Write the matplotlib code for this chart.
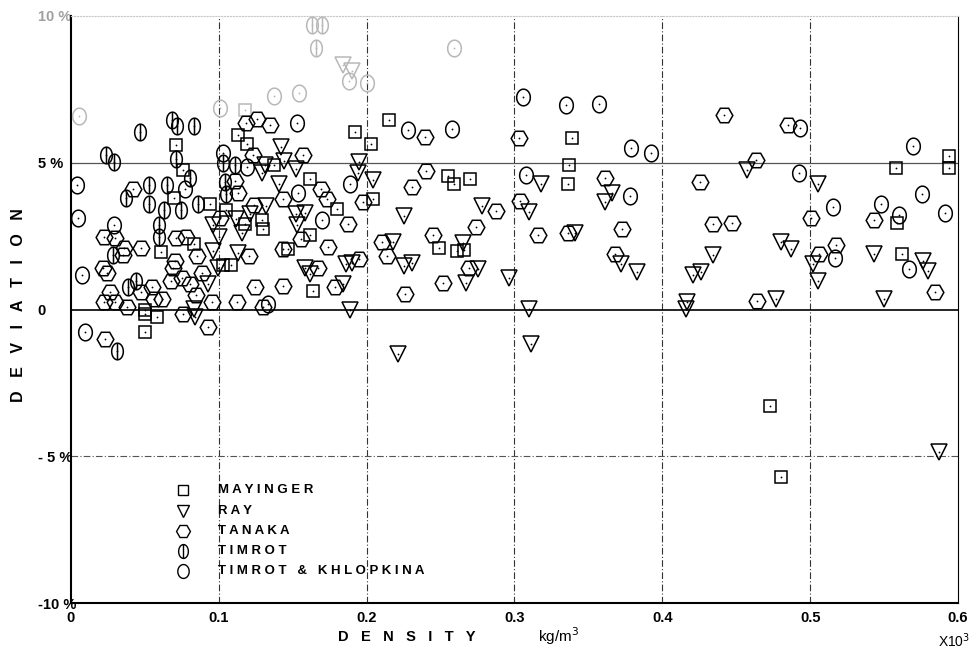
import numpy as np
import matplotlib
matplotlib.use("Agg")
import matplotlib.pyplot as plt
from matplotlib.path import Path

plt.rcParams['font.family'] = ['Liberation Sans', 'DejaVu Sans']

# MAYINGER (squares)
mayinger_x = [0.050, 0.050, 0.058, 0.050, 0.071, 0.076, 0.070, 0.061, 0.113, 0.119, 0.118,
              0.094, 0.105, 0.118, 0.129, 0.130, 0.083, 0.103, 0.108, 0.137, 0.162, 0.180,
              0.162, 0.147, 0.164, 0.192, 0.203, 0.215, 0.204, 0.255, 0.259, 0.270, 0.249,
              0.261, 0.266, 0.339, 0.337, 0.336, 0.473, 0.480, 0.558, 0.594, 0.594, 0.559,
              0.562]
mayinger_y = [0.0, -0.16, -0.24, -0.76, 5.59, 4.75, 3.79, 1.96, 5.96, 5.65, 6.81,
              3.58, 3.39, 2.93, 3.05, 2.73, 2.24, 1.52, 1.52, 4.94, 4.46, 3.44,
              2.54, 2.05, 0.64, 6.05, 5.65, 6.45, 3.75, 4.55, 4.26, 4.43, 2.11,
              2.0, 2.04, 5.85, 4.92, 4.29, -3.28, -5.71, 4.83, 5.23, 4.83, 2.96,
              1.88]

# RAY (triangles)
ray_x = [0.096, 0.100, 0.096, 0.0995, 0.093, 0.083, 0.084,
         0.142, 0.144, 0.152, 0.131, 0.129, 0.141, 0.1115, 0.116, 0.121, 0.132, 0.113,
         0.152, 0.158, 0.153, 0.1585, 0.1616,
         0.195, 0.194, 0.204, 0.225, 0.218, 0.186, 0.190, 0.184, 0.2255, 0.231, 0.278,
         0.265, 0.275, 0.267, 0.189,
         0.318, 0.310, 0.366, 0.361, 0.341, 0.372, 0.383, 0.296, 0.310, 0.434, 0.426,
         0.421, 0.417, 0.416,
         0.4575, 0.505, 0.480, 0.487, 0.502, 0.505, 0.477, 0.543, 0.576, 0.580, 0.550,
         0.221, 0.311, 0.587, 0.184, 0.190]
ray_y = [2.87, 2.47, 2.0, 1.43, 0.88, 0.03, -0.27,
         5.54, 5.06, 4.80, 4.94, 4.64, 4.26, 3.07, 2.62, 3.24, 3.53, 1.94,
         3.24, 3.30, 2.87, 1.43, 1.20,
         5.02, 4.64, 4.41, 3.19, 2.30, 1.56, 1.59, 0.86, 1.49, 1.60, 3.53,
         2.28, 1.39, 0.92, -0.02,
         4.26, 3.32, 3.96, 3.67, 2.60, 1.54, 1.28, 1.09, 0.01, 1.85, 1.28,
         1.17, 0.26, 0.03,
         4.75, 4.26, 2.30, 2.07, 1.54, 0.97, 0.37, 1.88, 1.66, 1.31, 0.37,
         -1.52, -1.18, -4.86, 8.33, 8.13]

# TANAKA (hexagons)
tanaka_x = [0.0214, 0.0241, 0.0264, 0.0223, 0.0297, 0.0376, 0.0477, 0.0545, 0.0561, 0.0619,
            0.0687, 0.0703, 0.0676, 0.0748, 0.0804, 0.0849, 0.0883, 0.0854, 0.0957, 0.1126,
            0.1205, 0.1243, 0.0755, 0.0928, 0.0230,
            0.0419, 0.0222, 0.0301, 0.0362, 0.0471, 0.0351, 0.0708, 0.0781, 0.1131, 0.1233,
            0.1183, 0.1109, 0.1239,
            0.1255, 0.1345, 0.1571, 0.1436, 0.1729, 0.1688, 0.1007, 0.1553, 0.1436, 0.1740,
            0.1668, 0.1436, 0.1786,
            0.1871, 0.1950, 0.1296, 0.1977, 0.2402, 0.2395, 0.2305, 0.2740, 0.2451, 0.2104,
            0.2135, 0.2515, 0.2260, 0.2695, 0.2876,
            0.3031, 0.4414, 0.3609, 0.3038, 0.3161, 0.3362, 0.3725, 0.3680, 0.4253, 0.4340,
            0.4853, 0.4631, 0.4473, 0.5009, 0.5057, 0.5174, 0.5434, 0.4638, 0.5842]
tanaka_y = [1.43, 1.24, 0.60, 0.26, 0.26, 0.10, 0.58, 0.75, 0.35, 0.37,
            1.43, 1.66, 0.98, 1.09, 0.86, 0.49, 1.24, 1.83, 0.24, 0.26,
            1.83, 0.75, -0.16, -0.58, -0.99,
            4.12, 2.48, 2.45, 2.09, 2.09, 1.85, 2.45, 2.48, 3.98, 5.28,
            6.34, 4.38, 3.55,
            6.50, 6.27, 5.25, 3.75, 3.78, 4.09, 3.13, 2.39, 2.05, 2.14,
            1.43, 0.81, 0.75,
            2.93, 1.73, 0.10, 3.66, 4.72, 5.87, 4.17, 2.82, 2.54, 2.31,
            1.83, 0.92, 0.52, 1.40, 3.36,
            5.83, 6.64, 4.49, 3.70, 2.53, 2.60, 2.76, 1.90, 4.34, 2.93,
            6.30, 5.09, 2.94, 3.13, 1.88, 2.20, 3.05, 0.29, 0.60]

# TIMROT (striped ellipses)
timrot_x = [0.0464, 0.0686, 0.0715, 0.0830, 0.0238, 0.0294, 0.0373, 0.0527, 0.0649, 0.0527,
            0.0627, 0.0747, 0.0860, 0.0595, 0.0595, 0.0283, 0.0385, 0.0437, 0.0713, 0.0808,
            0.1029, 0.1109, 0.1041, 0.1048, 0.0309, 0.163, 0.170, 0.166]
timrot_y = [6.04, 6.45, 6.25, 6.25, 5.28, 5.03, 3.81, 4.23, 4.23, 3.58,
            3.38, 3.38, 3.58, 2.87, 2.48, 1.85, 0.78, 0.98, 5.13, 4.49,
            5.0, 4.94, 4.34, 3.92, -1.41, 9.69, 9.69, 8.91]

# TIMROT & KHLOPKINA (circles)
tk_x = [0.0057, 0.0038, 0.0045, 0.0075, 0.0095, 0.1007, 0.1029, 0.0294, 0.0769, 0.119,
        0.153, 0.1537, 0.1695, 0.1889, 0.1375, 0.1544, 0.2278, 0.2578, 0.133, 0.306,
        0.3351, 0.3570, 0.3787, 0.3922, 0.3076, 0.3783, 0.4930, 0.4925, 0.5152, 0.5699,
        0.5758, 0.5914, 0.5480, 0.5170, 0.5672, 0.560, 0.188, 0.200, 0.259]
tk_y = [6.59, 4.23, 3.13, 1.17, -0.78, 6.87, 5.34, 2.87, 4.09, 4.86,
        6.36, 3.98, 3.04, 4.29, 7.28, 7.38, 6.13, 6.15, 0.20, 7.24,
        6.98, 7.01, 5.49, 5.32, 4.58, 3.87, 6.19, 4.64, 3.50, 5.57,
        3.92, 3.30, 3.58, 1.77, 1.37, 3.21, 7.79, 7.72, 8.91]

labels = ["M A Y I N G E R", "R A Y", "T A N A K A", "T I M R O T",
          "T I M R O T   &   K H L O P K I N A"]


def ellipse_path(ratio, stripe=False):
    t = np.linspace(0, 2 * np.pi, 41)
    verts = list(zip(ratio * np.cos(t), np.sin(t)))
    codes = [Path.MOVETO] + [Path.LINETO] * 40
    if stripe:
        verts += [(0, -1), (0, 1)]
        codes += [Path.MOVETO, Path.LINETO]
    return Path(verts, codes)


circle_m = ellipse_path(0.82)
striped_m = ellipse_path(0.70, stripe=True)

series = [
    (mayinger_x, mayinger_y, 's', 8.5),
    (ray_x, ray_y, 'v', 11),
    (tanaka_x, tanaka_y, 'H', 12),
    (timrot_x, timrot_y, striped_m, 12),
    (tk_x, tk_y, circle_m, 12),
]

fig = plt.figure(figsize=(9.71, 6.61), dpi=100)
ax = fig.add_axes([0.0731, 0.0877, 0.9135, 0.8881])

for xs, ys, m, ms in series:
    xs = np.array(xs)
    ys = np.array(ys)
    faded = (ys > 6.55) & (xs < 0.3)
    for mask, col in [(~faded, 'black'), (faded, '#b8b8b8')]:
        ax.plot(xs[mask], ys[mask], linestyle='none', marker=m, ms=ms,
                mfc='none', mec=col, mew=1.1, zorder=3)
        ax.plot(xs[mask], ys[mask], linestyle='none', marker='o', ms=1.3,
                mfc=col, mec='none', zorder=4)

# grid
for gx in [0.1, 0.2, 0.3, 0.4, 0.5]:
    ax.axvline(gx, color='#333333', lw=0.8, ls=(0, (6, 2, 1, 2)), zorder=1)
ax.axhline(5, color='#555555', lw=0.9, zorder=1)
ax.axhline(0, color='black', lw=1.2, zorder=1)
ax.axhline(-5, color='#555555', lw=0.8, ls=(0, (6, 2, 1, 2)), zorder=1)

ax.set_xlim(0, 0.6)
ax.set_ylim(-10, 10)

ax.spines['left'].set_linewidth(1.5)
ax.spines['bottom'].set_linewidth(1.5)
ax.spines['right'].set_linewidth(0.8)
ax.spines['top'].set_linewidth(0.8)
ax.spines['top'].set_color('#c8c8c8')
ax.spines['top'].set_linestyle(':')

ax.set_xticks([0, 0.1, 0.2, 0.3, 0.4, 0.5, 0.6])
ax.set_xticklabels(["0", "0.1", "0.2", "0.3", "0.4", "0.5", "0.6"],
                   fontsize=10.5, fontweight='bold')
ax.set_yticks([-10, -5, 0, 5, 10])
ax.set_yticklabels(["-10 %", "- 5 %", "0", "5 %", "10 %"],
                   fontsize=10.5, fontweight='bold')
for lab in ax.get_yticklabels():
    lab.set_horizontalalignment('left')
ax.get_yticklabels()[-1].set_color('#a0a0a0')
ax.tick_params(axis='y', length=0, pad=24)
ax.tick_params(axis='x', length=0, pad=6)

fig.text(0.019, 0.538, "D   E   V   I   A   T   I   O   N", rotation=90, ha='center',
         va='center', fontsize=11.5, fontweight='bold')
fig.text(0.419, 0.037, "D   E   N   S   I   T   Y", ha='center', va='center',
         fontsize=10.5, fontweight='bold')
fig.text(0.575, 0.037, "kg/m$^3$", ha='center', va='center', fontsize=11)
fig.text(0.983, 0.030, "X10$^3$", ha='center', va='center', fontsize=10)

# legend
leg_markers = ['s', 'v', 'H', striped_m, circle_m]
leg_sizes = [7, 9, 10, 10, 10]
for i, (lab, m, ms) in enumerate(zip(labels, leg_markers, leg_sizes)):
    yy = 0.192 - i * 0.0345
    ax.plot([0.126], [yy], transform=ax.transAxes, marker=m, ms=ms,
            mfc='none', mec='black', mew=1.0, linestyle='none')
    ax.text(0.166, yy, lab, transform=ax.transAxes, va='center', ha='left',
            fontsize=9.5, fontweight='bold')

fig.savefig("out.png", dpi=100)
